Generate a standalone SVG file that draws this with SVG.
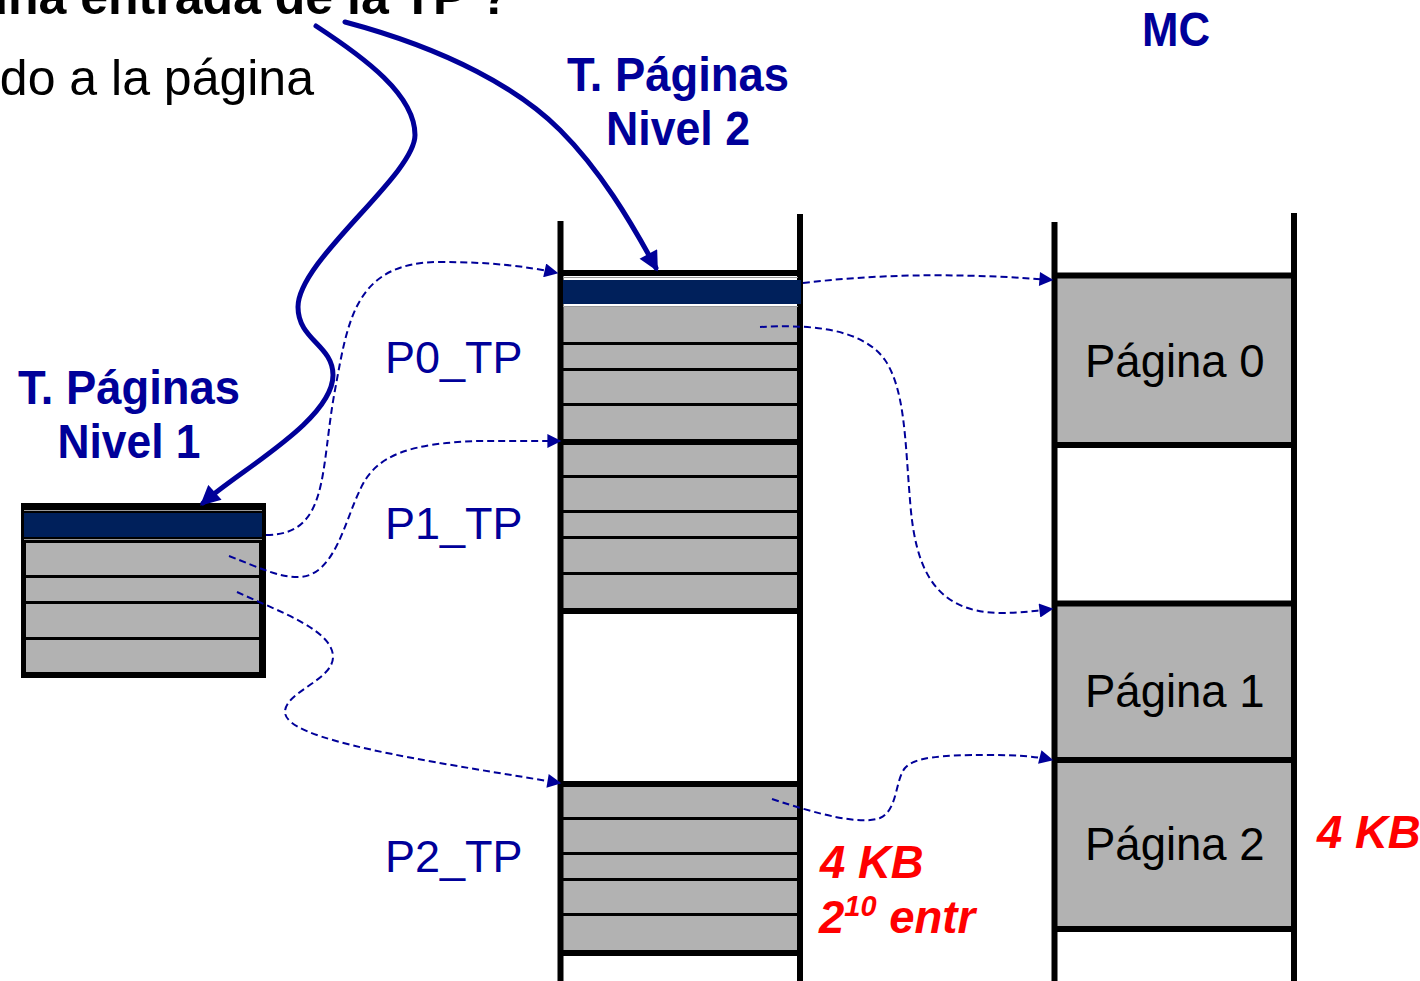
<svg xmlns="http://www.w3.org/2000/svg" width="1420" height="981" viewBox="0 0 1420 981">
<style>
.bg{fill:#ffffff}
.gray{fill:#b2b2b2}
.band{fill:#00205b}
.vline{stroke:#000;stroke-width:6;fill:none}
.thick{stroke:#000;stroke-width:6;fill:none}
.row{stroke:#000;stroke-width:3;fill:none}
.hair{stroke:#9a9a9a;stroke-width:1;fill:none}
.big{fill:none;stroke:#000099;stroke-width:5;stroke-linecap:round}
.dash{fill:none;stroke:#000099;stroke-width:2;stroke-dasharray:7 4}
.title{font-family:"Liberation Sans",Arial,sans-serif;font-weight:bold;fill:#000099;font-size:48px}
.lab{font-family:"Liberation Sans",Arial,sans-serif;fill:#000099;font-size:45px}
.pg{font-family:"Liberation Sans",Arial,sans-serif;fill:#000;font-size:45.5px}
.red{font-family:"Liberation Sans",Arial,sans-serif;font-weight:bold;font-style:italic;fill:#ff0000;font-size:45.5px}
.body{font-family:"Liberation Sans",Arial,sans-serif;fill:#000;font-size:50px}
</style>
<defs>
<marker id="bigHead" viewBox="0 0 10 10" refX="8" refY="5" markerWidth="22" markerHeight="20" markerUnits="userSpaceOnUse" orient="auto">
<path d="M0,0 L10,5 L0,10 z" fill="#000099"/>
</marker>
<marker id="dashHead" viewBox="0 0 10 10" refX="9" refY="5" markerWidth="17" markerHeight="14" markerUnits="userSpaceOnUse" orient="auto">
<path d="M0,0 L10,5 L0,10 z" fill="#000099"/>
</marker>
</defs>
<rect class="bg" x="0" y="0" width="1420" height="981"/>

<g id="header-text">
<text class="body" font-weight="bold" font-size="48" x="510" y="14" text-anchor="end">una entrada de la TP ?</text>
<text class="body" x="314" y="95" text-anchor="end">do a la página</text>
</g>

<g id="tp-nivel1">
<text class="title" x="129" y="404" text-anchor="middle" textLength="222" lengthAdjust="spacingAndGlyphs">T. Páginas</text>
<text class="title" x="129" y="458" text-anchor="middle" textLength="143" lengthAdjust="spacingAndGlyphs">Nivel 1</text>
<rect x="21" y="503" width="245" height="175" fill="#000"/>
<line class="hair" x1="24" y1="510.5" x2="262" y2="510.5"/>
<rect class="band" x="24" y="513" width="238" height="24"/>
<line class="hair" x1="24" y1="539.5" x2="262" y2="539.5"/>
<rect class="gray" x="26" y="543" width="233" height="32"/>
<rect class="gray" x="26" y="578" width="233" height="23"/>
<rect class="gray" x="26" y="604" width="233" height="33"/>
<rect class="gray" x="26" y="640" width="233" height="32"/>
</g>

<g id="tp-nivel2">
<text class="title" x="678" y="91" text-anchor="middle" textLength="222" lengthAdjust="spacingAndGlyphs">T. Páginas</text>
<text class="title" x="678" y="145" text-anchor="middle" textLength="144" lengthAdjust="spacingAndGlyphs">Nivel 2</text>
<rect class="gray" x="563" y="307" width="235" height="135"/>
<rect class="gray" x="563" y="444" width="235" height="166"/>
<rect class="gray" x="563" y="786" width="237" height="166"/>
<line class="vline" x1="560.5" y1="221" x2="560.5" y2="981"/>
<line class="vline" x1="800" y1="214" x2="800" y2="981"/>
<line class="thick" x1="558" y1="273" x2="802" y2="273"/>
<line class="hair" x1="563" y1="277.5" x2="798" y2="277.5"/>
<rect class="band" x="563" y="280" width="238" height="24"/>
<line class="hair" x1="563" y1="306.5" x2="798" y2="306.5"/>
<line class="row" x1="563" y1="343.5" x2="798" y2="343.5"/>
<line class="row" x1="563" y1="369.5" x2="798" y2="369.5"/>
<line class="row" x1="563" y1="404.5" x2="798" y2="404.5"/>
<line class="thick" x1="558" y1="442" x2="802" y2="442"/>
<line class="row" x1="563" y1="476.5" x2="798" y2="476.5"/>
<line class="row" x1="563" y1="511.5" x2="798" y2="511.5"/>
<line class="row" x1="563" y1="537.5" x2="798" y2="537.5"/>
<line class="row" x1="563" y1="573.5" x2="798" y2="573.5"/>
<line class="thick" x1="558" y1="611" x2="802" y2="611"/>
<line class="thick" x1="558" y1="784" x2="802" y2="784"/>
<line class="row" x1="563" y1="818.5" x2="800" y2="818.5"/>
<line class="row" x1="563" y1="853.5" x2="800" y2="853.5"/>
<line class="row" x1="563" y1="879.5" x2="800" y2="879.5"/>
<line class="row" x1="563" y1="914.5" x2="800" y2="914.5"/>
<line class="thick" x1="558" y1="953" x2="802" y2="953"/>
<text class="lab" x="385" y="373">P0_TP</text>
<text class="lab" x="385" y="539">P1_TP</text>
<text class="lab" x="385" y="872">P2_TP</text>
<text class="red" x="820" y="878">4 KB</text>
<text class="red" x="819" y="933">2<tspan font-size="29" dy="-17">10</tspan><tspan dy="17"> entr</tspan></text>
</g>

<g id="mc">
<text class="title" x="1176" y="46" text-anchor="middle" textLength="68" lengthAdjust="spacingAndGlyphs">MC</text>
<rect class="gray" x="1057" y="278" width="234" height="165"/>
<rect class="gray" x="1057" y="606" width="234" height="321"/>
<line class="vline" x1="1054.5" y1="222" x2="1054.5" y2="981"/>
<line class="vline" x1="1294" y1="213" x2="1294" y2="981"/>
<line class="thick" x1="1054" y1="275.5" x2="1294" y2="275.5" stroke-width="5"/>
<line class="thick" x1="1054" y1="445" x2="1294" y2="445" stroke-width="5"/>
<line class="thick" x1="1054" y1="603.5" x2="1294" y2="603.5" stroke-width="5"/>
<line class="thick" x1="1054" y1="760" x2="1294" y2="760" stroke-width="5"/>
<line class="thick" x1="1054" y1="929" x2="1294" y2="929" stroke-width="5"/>
<text class="pg" x="1085" y="377">Página 0</text>
<text class="pg" x="1085" y="707">Página 1</text>
<text class="pg" x="1085" y="860">Página 2</text>
<text class="red" x="1317" y="848">4 KB</text>
</g>

<g id="connectors">
<path class="big" d="M316,26 C365,58 415,95 415,135 C415,175 298,260 298,307 C298,340 333,345 333,375 C333,420 240,470 203,503" marker-end="url(#bigHead)"/>
<path class="big" d="M345,22 C450,50 520,90 560,130 C600,170 630,220 656,268" marker-end="url(#bigHead)"/>
<path class="dash" d="M266,535 C330,535 320,470 335,390 C348,320 355,262 440,262 C490,262 525,266 557,273" marker-end="url(#dashHead)"/>
<path class="dash" d="M229,556 C260,568 280,578 300,577 C335,575 345,520 360,490 C375,455 410,443 480,441 L560,441" marker-end="url(#dashHead)"/>
<path class="dash" d="M237,592 C280,612 333,630 333,657 C333,680 285,692 285,712 C285,740 420,760 560,783" marker-end="url(#dashHead)"/>
<path class="dash" d="M803,283 C870,275 950,272 1052,280" marker-end="url(#dashHead)"/>
<path class="dash" d="M760,327 C800,325 860,325 885,360 C905,390 905,440 910,500 C915,570 935,612 1000,613 C1020,613 1035,611 1052,609" marker-end="url(#dashHead)"/>
<path class="dash" d="M772,799 C820,815 860,825 880,818 C898,810 895,780 905,768 C915,757 940,755 990,755 C1020,755 1040,757 1052,760" marker-end="url(#dashHead)"/>
</g>
</svg>
